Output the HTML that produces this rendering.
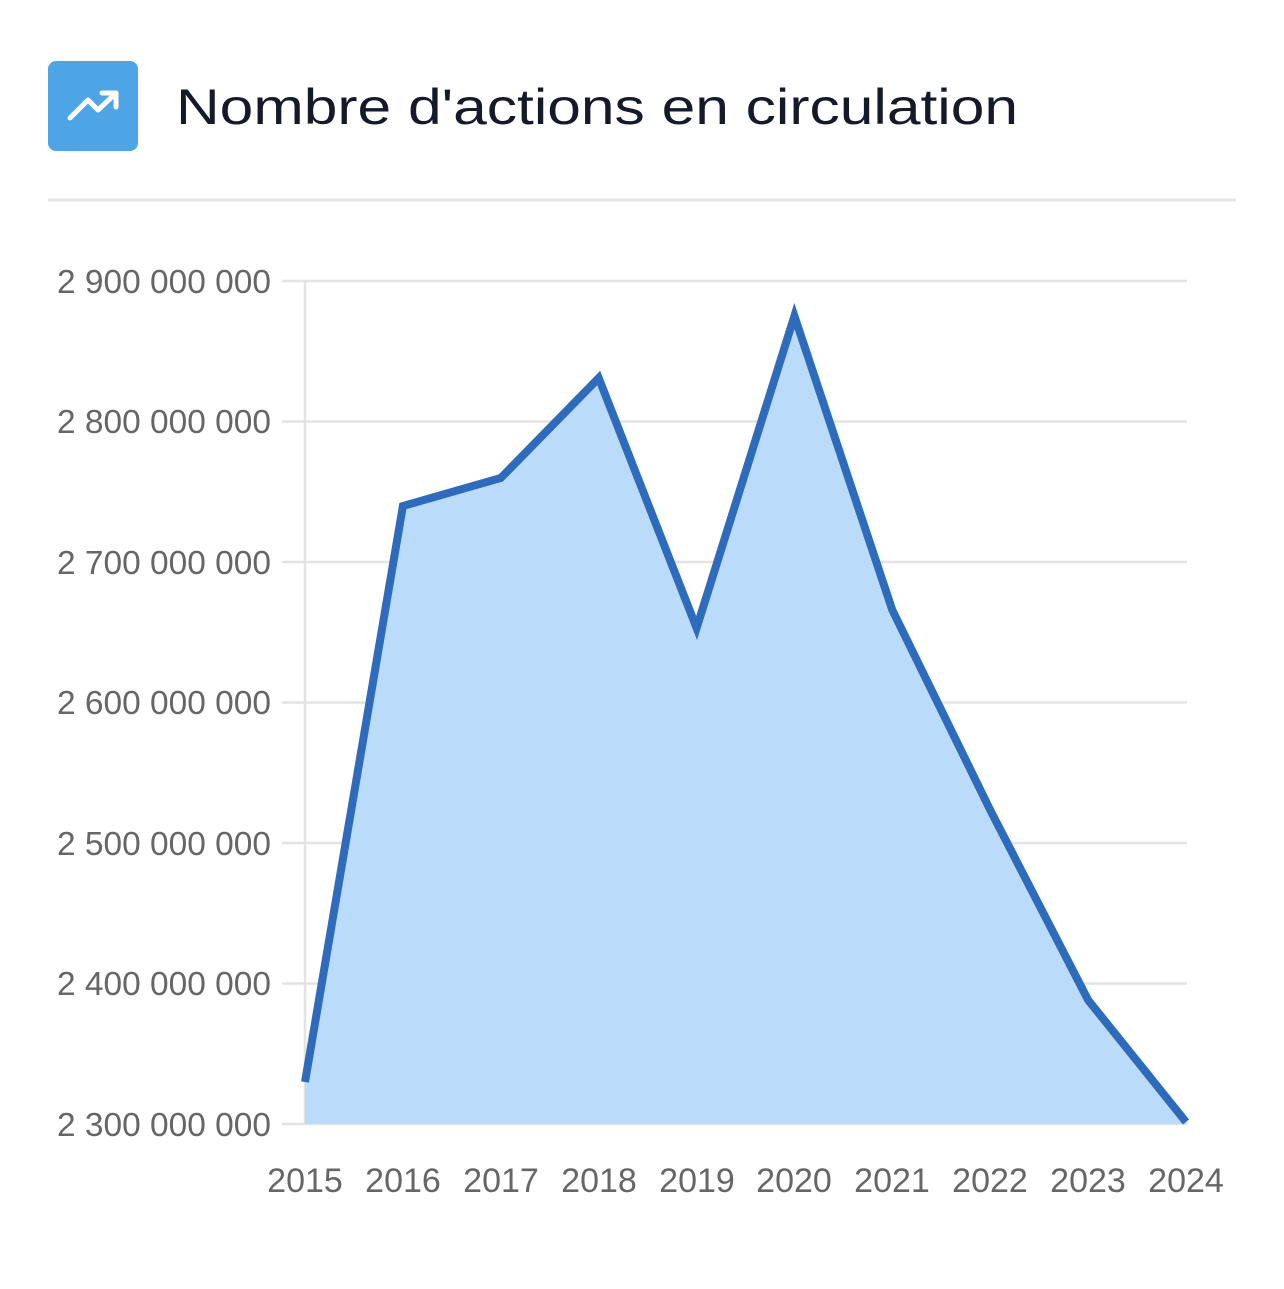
<!DOCTYPE html>
<html><head><meta charset="utf-8"><style>
body{margin:0;background:#fff;width:1284px;height:1284px;overflow:hidden}
</style></head><body>
<svg width="1284" height="1284" xmlns="http://www.w3.org/2000/svg" font-family="Liberation Sans, sans-serif">
<rect x="48" y="61" width="90" height="90" rx="8" fill="#4ea5e6"/>
<polyline points="70,118 88,100 98,110 116,93" fill="none" stroke="#fff" stroke-width="5" stroke-linecap="round" stroke-linejoin="round"/>
<polyline points="102,93 116,93 116,107" fill="none" stroke="#fff" stroke-width="5" stroke-linecap="round" stroke-linejoin="round"/>
<text x="176" y="124" font-size="50" fill="#141a2a" textLength="842" lengthAdjust="spacingAndGlyphs">Nombre d'actions en circulation</text>
<line x1="48" y1="200" x2="1236" y2="200" stroke="#e5e5e5" stroke-width="3"/>
<g stroke="#e3e3e3" stroke-width="2.5">
<line x1="282" y1="281" x2="1187" y2="281"/><line x1="282" y1="421.5" x2="1187" y2="421.5"/>
<line x1="282" y1="562" x2="1187" y2="562"/><line x1="282" y1="702.5" x2="1187" y2="702.5"/>
<line x1="282" y1="843" x2="1187" y2="843"/><line x1="282" y1="983.5" x2="1187" y2="983.5"/>
<line x1="282" y1="1124" x2="1187" y2="1124"/><line x1="305" y1="281" x2="305" y2="1124"/>
</g>
<polygon points="305,1082 402.9,506 500.8,478 598.7,378 696.6,628 794.4,316 892.3,610 990.2,810 1088.1,1000 1186,1122 1186,1124 305,1124" fill="#bbdbfb"/>
<polyline points="305,1082 402.9,506 500.8,478 598.7,378 696.6,628 794.4,316 892.3,610 990.2,810 1088.1,1000 1186,1122" fill="none" stroke="#2f6bbd" stroke-width="8" stroke-linejoin="miter"/>
<g font-size="33" fill="#666">
<text x="57" y="293" textLength="214" lengthAdjust="spacingAndGlyphs">2 900 000 000</text><text x="57" y="433" textLength="214" lengthAdjust="spacingAndGlyphs">2 800 000 000</text>
<text x="57" y="574" textLength="214" lengthAdjust="spacingAndGlyphs">2 700 000 000</text><text x="57" y="714" textLength="214" lengthAdjust="spacingAndGlyphs">2 600 000 000</text>
<text x="57" y="855" textLength="214" lengthAdjust="spacingAndGlyphs">2 500 000 000</text><text x="57" y="995" textLength="214" lengthAdjust="spacingAndGlyphs">2 400 000 000</text>
<text x="57" y="1136" textLength="214" lengthAdjust="spacingAndGlyphs">2 300 000 000</text>
</g>
<g font-size="34" fill="#666" text-anchor="middle">
<text x="305" y="1192">2015</text><text x="403" y="1192">2016</text><text x="501" y="1192">2017</text>
<text x="599" y="1192">2018</text><text x="697" y="1192">2019</text><text x="794" y="1192">2020</text>
<text x="892" y="1192">2021</text><text x="990" y="1192">2022</text><text x="1088" y="1192">2023</text>
<text x="1186" y="1192">2024</text>
</g>
</svg>
</body></html>
